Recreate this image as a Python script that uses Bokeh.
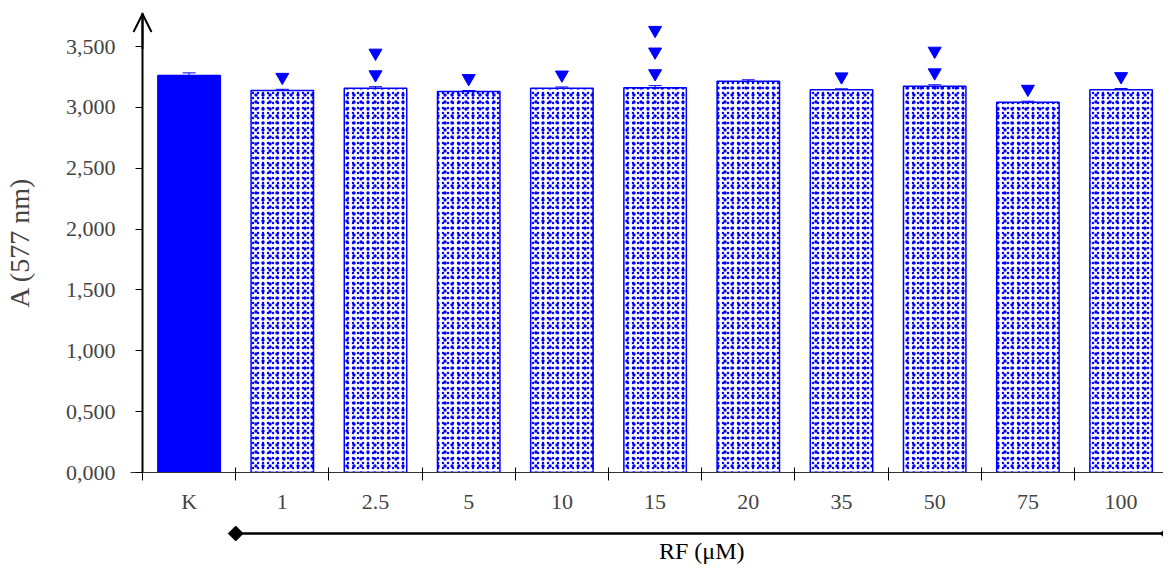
import math
from bokeh.plotting import figure
from bokeh.layouts import column
from bokeh.models import (ColumnDataSource, Range1d, LinearAxis, FixedTicker, CustomJSTickFormatter,
                          Whisker, TeeHead, Arrow, OpenHead, Span)
from bokeh.core.properties import value
from bokeh.embed import file_html
from bokeh.resources import INLINE

categories = ["K", "1", "2.5", "5", "10", "15", "20", "35", "50", "75", "100"]
values = [3.262, 3.139, 3.158, 3.131, 3.158, 3.161, 3.215, 3.145, 3.174, 3.043, 3.145]
errors = [0.022, 0.010, 0.012, 0.008, 0.010, 0.018, 0.012, 0.008, 0.012, 0.008, 0.010]
marks = [0, 1, 2, 1, 1, 3, 0, 1, 2, 1, 1]
y_ticks = [0.0, 0.5, 1.0, 1.5, 2.0, 2.5, 3.0, 3.5]
group_label = "RF (μM)"
group_first = "1"

BLUE = "#0000ff"
FONT = "Liberation Serif"
W = 1163
FL = 130              # frame left (px)
AXIS_X = 142          # y axis line (px)
CW = 93.2             # category width (px)
XSTART = -(AXIS_X - FL) / CW
XEND = XSTART + (W - FL) / CW
YEND = 3.78

xs = [i + 0.5 for i in range(len(categories))]
xr = Range1d(XSTART, XEND)

p = figure(width=W, height=516, output_backend="svg", toolbar_location=None,
           x_range=xr, y_range=Range1d(0, YEND),
           min_border_left=FL, min_border_right=0, min_border_top=12, min_border_bottom=0)
p.xaxis.visible = False
p.yaxis.visible = False
p.xgrid.visible = False
p.ygrid.visible = False
p.outline_line_color = None

yax = LinearAxis(ticker=FixedTicker(ticks=y_ticks, minor_ticks=[]),
                 formatter=CustomJSTickFormatter(code="return tick.toFixed(3).replace('.', ',');"),
                 axis_label="A (577 nm)")
yax.axis_line_color = None
yax.major_tick_in = AXIS_X - FL
yax.major_tick_out = -5
yax.major_tick_line_color = "black"
yax.major_label_standoff = 15
yax.major_label_text_font = FONT
yax.major_label_text_font_size = "22px"
yax.axis_label_text_font = FONT
yax.axis_label_text_font_style = "normal"
yax.axis_label_text_font_size = "28px"
yax.axis_label_standoff = 28
p.add_layout(yax, "left")

xax = LinearAxis(ticker=FixedTicker(ticks=xs, minor_ticks=list(range(0, len(categories) + 1))))
xax.major_label_overrides = {x: c for x, c in zip(xs, categories)}
xax.major_tick_in = 0
xax.major_tick_out = 0
xax.minor_tick_in = 5
xax.minor_tick_out = 8
xax.minor_tick_line_color = "black"
xax.axis_line_color = "#333333"
xax.major_label_standoff = 8
xax.major_label_text_font = FONT
xax.major_label_text_font_size = "22px"
p.add_layout(xax, "below")

# y axis line with open arrow head
p.add_layout(Span(location=0, dimension="height", line_color="black", line_width=2))
p.add_layout(Arrow(end=OpenHead(size=18, line_width=2, line_color="black"), x_start=0, y_start=YEND - 0.3,
                   x_end=0, y_end=YEND - 0.012, line_width=2, line_color="black"))

k_src = ColumnDataSource(dict(x=xs[:1], top=values[:1]))
rf_src = ColumnDataSource(dict(x=xs[1:], top=values[1:]))
p.vbar(x="x", top="top", width=0.67, source=k_src, fill_color=BLUE, line_color=BLUE, line_width=1.5)
p.vbar(x="x", top="top", width=0.67, source=rf_src, fill_color="white", line_color=None,
       hatch_pattern="dot", hatch_color=BLUE, hatch_scale=5, hatch_weight=2)
p.vbar(x="x", top="top", width=0.67, source=rf_src, fill_color=None, line_color=BLUE,
       line_width=1.5, hatch_pattern="dot", hatch_color=BLUE, hatch_scale=7, hatch_weight=2)

err_src = ColumnDataSource(dict(x=xs, lower=values, upper=[v + e for v, e in zip(values, errors)]))
p.add_layout(Whisker(base="x", lower="lower", upper="upper", source=err_src, line_color=BLUE,
                     line_width=1, upper_head=TeeHead(size=13, line_color=BLUE, line_width=1),
                     lower_head=None, level="overlay"))

mx, my = [], []
for x, v, e, m in zip(xs, values, errors, marks):
    for k in range(m):
        mx.append(x)
        my.append(v + e + 0.1 + k * 0.178)
p.scatter(mx, my, marker="inverted_triangle", size=13, fill_color=BLUE, line_color=BLUE)

# group bracket below the categories
g0 = categories.index(group_first)
g1 = len(categories)
q = figure(width=W, height=49, output_backend="svg", toolbar_location=None,
           x_range=xr, y_range=Range1d(0, 1),
           min_border_left=FL, min_border_right=0, min_border_top=0, min_border_bottom=0)
q.xaxis.visible = False
q.yaxis.visible = False
q.xgrid.visible = False
q.ygrid.visible = False
q.outline_line_color = None
q.segment(x0=[g0], y0=[0.653], x1=[g1], y1=[0.653], line_color="black", line_width=2.5)
q.scatter([g0, g1], [0.653, 0.653], marker="square", angle=math.pi / 4, size=10.5,
          fill_color="black", line_color="black")
q.text(x=[(g0 + g1) / 2], y=[0.30], text=[group_label], text_align="center", text_baseline="middle",
       text_font=value(FONT), text_font_size="24px", text_color="black")

open("out.html", "w").write(file_html(column(p, q, spacing=0), INLINE))
